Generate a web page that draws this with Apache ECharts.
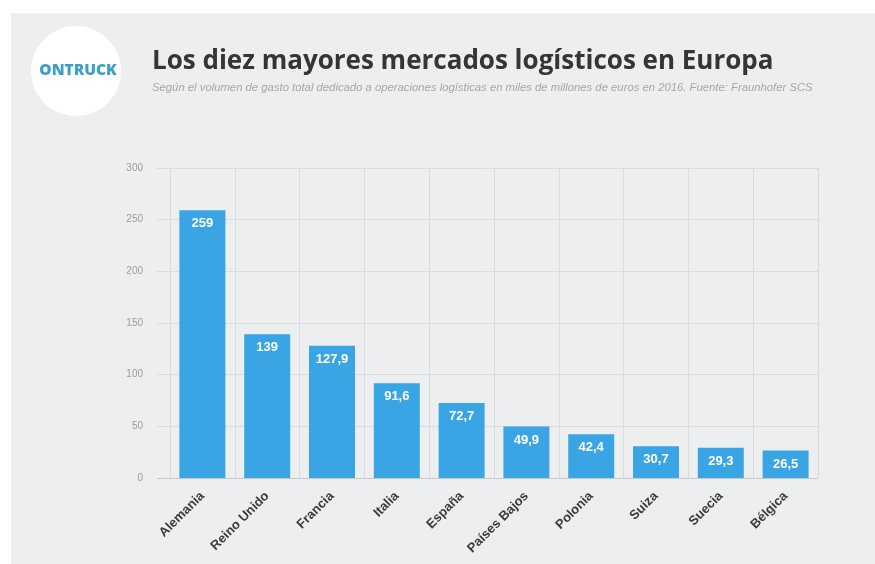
<!DOCTYPE html>
<html>
<head>
<meta charset="utf-8">
<script src="https://cdn.jsdelivr.net/npm/echarts@6/dist/echarts.min.js"></script>
<style>
  html, body { margin: 0; padding: 0; background: #ffffff; }
  #chart { width: 875px; height: 564px; }
</style>
</head>
<body>
<div id="chart"></div>
<script>
// Los diez mayores mercados logísticos en Europa (miles de millones de euros, 2016)
const countries = ['Alemania', 'Reino Unido', 'Francia', 'Italia', 'España',
                   'Países Bajos', 'Polonia', 'Suiza', 'Suecia', 'Bélgica'];
const spending = [259, 139, 127.9, 91.6, 72.7, 49.9, 42.4, 30.7, 29.3, 26.5];
const yTicks = [0, 50, 100, 150, 200, 250, 300];

const titleText = 'Los diez mayores mercados logísticos en Europa';
const subtitleText = 'Según el volumen de gasto total dedicado a operaciones logísticas en miles de millones de euros en 2016. Fuente: Fraunhofer SCS';
const brandText = 'ONTRUCK';

const chart = echarts.init(document.getElementById('chart'), null, { renderer: 'canvas' });

const panelColor = '#eceef0';
const gridColor = '#d9dbdd';
const axisColor = '#c6c8ca';
const barColor = '#3aa5e4';

const yMin = yTicks[0];
const yMax = yTicks[yTicks.length - 1];
const yStep = yTicks[1] - yTicks[0];

// first horizontal line (the baseline) is a touch darker than the others
const hLineColors = yTicks.map((t, i) => (i === 0 ? axisColor : gridColor));

const commaNumber = v => String(v).replace('.', ',');

chart.setOption({
  animation: false,
  backgroundColor: '#ffffff',
  graphic: [
    {
      type: 'rect', z: -10, silent: true,
      shape: { x: 11, y: 13, width: 864, height: 551 },
      style: { fill: panelColor }
    },
    {
      type: 'circle', z: -5, silent: true,
      shape: { cx: 76, cy: 71, r: 45 },
      style: { fill: '#ffffff' }
    },
    {
      type: 'text', silent: true,
      x: 78, y: 71,
      style: {
        text: brandText,
        fill: '#3c9fcc',
        font: '800 15.5px "Open Sans", "Liberation Sans", sans-serif',
        textAlign: 'center',
        textVerticalAlign: 'middle'
      }
    }
  ],
  title: [
    {
      text: titleText,
      left: 147, top: 44,
      textStyle: {
        fontFamily: '"Open Sans", "Liberation Sans", sans-serif',
        fontWeight: 'bold',
        fontSize: 26,
        color: '#333638'
      }
    },
    {
      text: subtitleText,
      left: 147, top: 77,
      textStyle: {
        fontFamily: '"Liberation Sans", sans-serif',
        fontStyle: 'italic',
        fontWeight: 'normal',
        fontSize: 11.3,
        color: '#a4a7aa'
      }
    }
  ],
  grid: [
    { left: 157, right: 57, top: 168, bottom: 86 },
    { left: 170, right: 57, top: 168, bottom: 86 }
  ],
  xAxis: [
    { gridIndex: 0, type: 'value', show: false, min: 0, max: 1 },
    {
      gridIndex: 1,
      type: 'category',
      data: countries,
      boundaryGap: true,
      axisLine: { show: false },
      axisTick: { show: false },
      splitLine: { show: true, lineStyle: { color: gridColor, width: 1 } },
      axisLabel: {
        rotate: 45,
        margin: 16,
        interval: 0,
        fontFamily: '"Liberation Sans", sans-serif',
        fontWeight: 'bold',
        fontSize: 13,
        color: '#3a3c3e'
      }
    }
  ],
  yAxis: [
    {
      gridIndex: 0,
      type: 'value',
      min: yMin, max: yMax, interval: yStep,
      axisLine: { show: false },
      axisTick: { show: false },
      splitLine: { show: true, lineStyle: { color: hLineColors, width: 1 } },
      axisLabel: {
        margin: 14,
        fontFamily: '"Liberation Sans", sans-serif',
        fontSize: 10,
        color: '#9a9da0'
      }
    },
    {
      gridIndex: 1,
      type: 'value',
      min: yMin, max: yMax, interval: yStep,
      show: false
    }
  ],
  series: [
    {
      type: 'bar',
      xAxisIndex: 1,
      yAxisIndex: 1,
      data: spending,
      barWidth: 46,
      itemStyle: { color: barColor },
      label: {
        show: true,
        position: 'insideTop',
        distance: 7,
        formatter: p => commaNumber(p.value),
        fontFamily: '"Liberation Sans", sans-serif',
        fontWeight: 'bold',
        fontSize: 13,
        color: '#ffffff'
      }
    }
  ]
});
</script>
</body>
</html>
